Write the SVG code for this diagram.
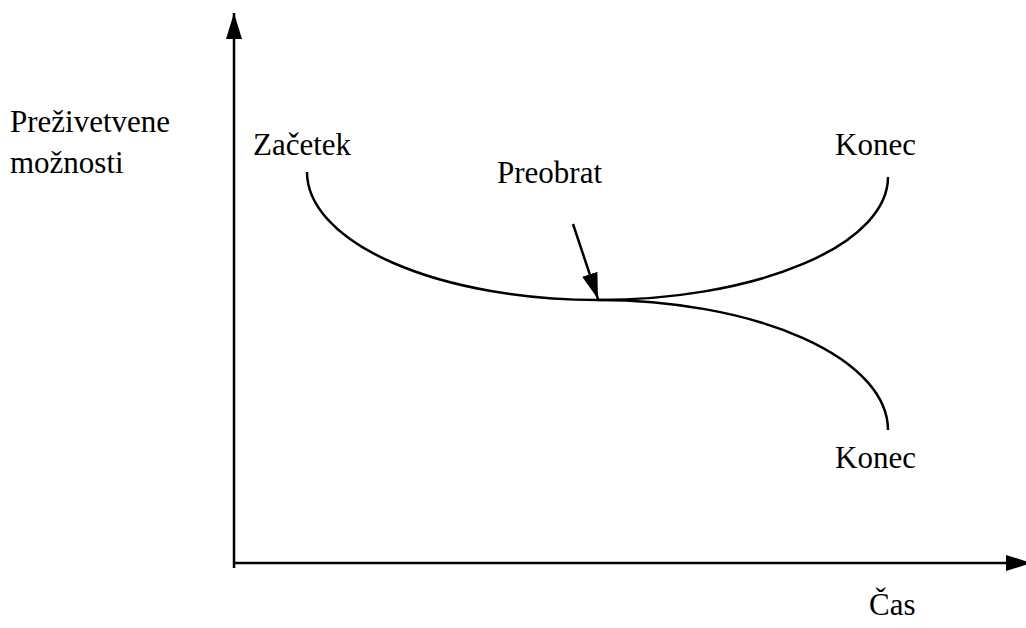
<svg xmlns="http://www.w3.org/2000/svg" width="1026" height="628" viewBox="0 0 1026 628">
<style>
text{font-family:"Liberation Serif","Times New Roman",serif;font-size:31px;fill:#000}
.ln{fill:none;stroke:#000;stroke-width:2.5}
</style>
<defs>
<marker id="ah" markerWidth="26" markerHeight="16" refX="26" refY="8" orient="auto" markerUnits="userSpaceOnUse">
<path d="M0,0 L26,8 L0,16 z" fill="#000"/>
</marker>
</defs>
<rect width="1026" height="628" fill="#fff"/>
<g id="connectors">
<line class="ln" x1="234" y1="568" x2="234" y2="13" marker-end="url(#ah)"/>
<line class="ln" x1="234" y1="563" x2="1032" y2="563" marker-end="url(#ah)"/>
<path class="ln" d="M307,172 A291,128 0 0 0 598,300 A290,123 0 0 0 888,177"/>
<path class="ln" d="M598,300 A290,130 0 0 1 888,430"/>
<line class="ln" x1="573" y1="224" x2="598" y2="299" marker-end="url(#ah)"/>
</g>
<g id="ylabel"><text x="10" y="132">Preživetvene</text><text x="10" y="173">možnosti</text></g>
<g id="zacetek"><text x="253" y="155">Začetek</text></g>
<g id="konec1"><text x="835" y="155">Konec</text></g>
<g id="preobrat"><text x="497" y="183">Preobrat</text></g>
<g id="konec2"><text x="835" y="468">Konec</text></g>
<g id="cas"><text x="869" y="615">Čas</text></g>
</svg>
